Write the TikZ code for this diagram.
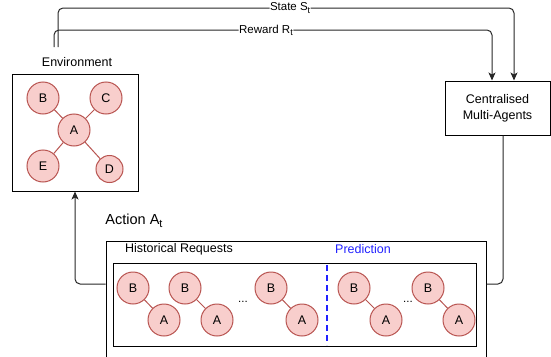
\documentclass[tikz,border=0pt]{standalone}
\usepackage{fontspec}
\setmainfont{Liberation Sans}
\usetikzlibrary{arrows.meta,calc}
\definecolor{nodefill}{HTML}{F8CECC}
\definecolor{nodedraw}{HTML}{B85450}
\definecolor{predblue}{HTML}{2222FF}
\newcommand{\fsmain}{\fontsize{12.5}{15}\selectfont}
\newcommand{\fsedge}{\fontsize{11.5}{13}\selectfont}
\newcommand{\fsbig}{\fontsize{14.5}{17}\selectfont}
\newcommand{\subt}{\raisebox{-0.35ex}{\fontsize{9}{10}\selectfont t}}
\newcommand{\subtbig}{\raisebox{-0.35ex}{\fontsize{11}{12}\selectfont t}}
\begin{document}
\begin{tikzpicture}[x=1pt,y=-1pt,
  box/.style={draw=black, line width=1pt, fill=white, inner sep=0pt},
  circ/.style={circle, draw=nodedraw, fill=nodefill, line width=1pt, minimum size=32pt, inner sep=0pt, font=\fsmain},
  tie/.style={draw=nodedraw, line width=1pt},
  lbl/.style={font=\fsmain, inner sep=0pt},
  elbl/.style={font=\fsedge, fill=white, inner sep=0.5pt},
  conn/.style={draw=black!85, line width=1pt, rounded corners=5pt},
  tip/.style={-{Stealth[length=8pt,width=7pt,inset=2pt]}}
]
\useasboundingbox (0,0) rectangle (551,356);
\clip (0,0) rectangle (551,356);

% Environment
\node[box, minimum width=126pt, minimum height=117pt] (env) at (75,132.5) {};
\node[lbl] (envlbl) at (77,62) {Environment};
\node[circ] (eA) at (74,130) {A};
\node[circ] (eB) at (43,98) {B};
\node[circ] (eC) at (106,98) {C};
\node[circ] (eE) at (43,166) {E};
\node[circ, minimum size=27pt] (eD) at (109.5,169) {D};
\draw[tie] (eA) -- (eB);
\draw[tie] (eA) -- (eC);
\draw[tie] (eA) -- (eE);
\draw[tie] (eA) -- (eD);

% Multi-agents
\node[box, minimum width=105pt, minimum height=54pt, align=center, font=\fsmain] (ma) at (497.5,108) {Centralised\\[1pt]Multi-Agents};

% State and reward
\coordinate (s0) at (58,47);
\coordinate (r0) at (54,47);
\coordinate (sIn) at ([xshift=16.5pt]ma.north);
\coordinate (rIn) at ([xshift=-5.5pt]ma.north);
\draw[conn, tip] (r0) -- (54,30) -- node[elbl, pos=0.484] (rlbl) {Reward R\subt} (rIn |- 0,30) -- (rIn);
\draw[conn, tip] (s0) -- (58,8) -- node[elbl, pos=0.509] (slbl) {State S\subt} (sIn |- 0,8) -- (sIn);

% Outer and inner boxes
\node[box, minimum width=380pt, minimum height=150pt] (outer) at (296,316) {};
\node[box, minimum width=363pt, minimum height=83pt] (inner) at (294.5,304.5) {};
\node[lbl] (hist) at (179,249) {Historical Requests};
\node[lbl, text=predblue] (pred) at (363,249) {Prediction};
\coordinate (dtop) at (327,265);
\coordinate (dbot) at (327,345);
\draw[predblue, line width=2pt, dash pattern=on 6pt off 4pt] (dtop) -- (dbot);

% Action
\node[font=\fsbig, inner sep=0pt] (act) at (134,221) {Action A\subtbig};
\coordinate (aTurn) at ([xshift=5.5pt]ma.south |- 0,284);
\draw[conn] ([xshift=5.5pt]ma.south) -- (aTurn) -- (outer.east |- aTurn);
\draw[conn, tip] (outer.west |- aTurn) -- (env.south |- aTurn) -- (env.south);

% Request pairs
\node[circ] (b1) at (133,288) {B};
\node[circ] (a1) at (164,320) {A};
\node[circ] (b2) at (185,288) {B};
\node[circ] (a2) at (217,320) {A};
\node[circ] (b3) at (271,288) {B};
\node[circ] (a3) at (302,320) {A};
\node[circ] (b4) at (354,288) {B};
\node[circ] (a4) at (386,320) {A};
\node[circ] (b5) at (428,288) {B};
\node[circ] (a5) at (459,320) {A};
\draw[tie] (b1) -- (a1);
\draw[tie] (b2) -- (a2);
\draw[tie] (b3) -- (a3);
\draw[tie] (b4) -- (a4);
\draw[tie] (b5) -- (a5);
\node[font=\fsedge, anchor=base, inner sep=0pt] (dots1) at (243,302) {...};
\node[font=\fsedge, anchor=base, inner sep=0pt] (dots2) at (408,302) {...};
\end{tikzpicture}
\end{document}
